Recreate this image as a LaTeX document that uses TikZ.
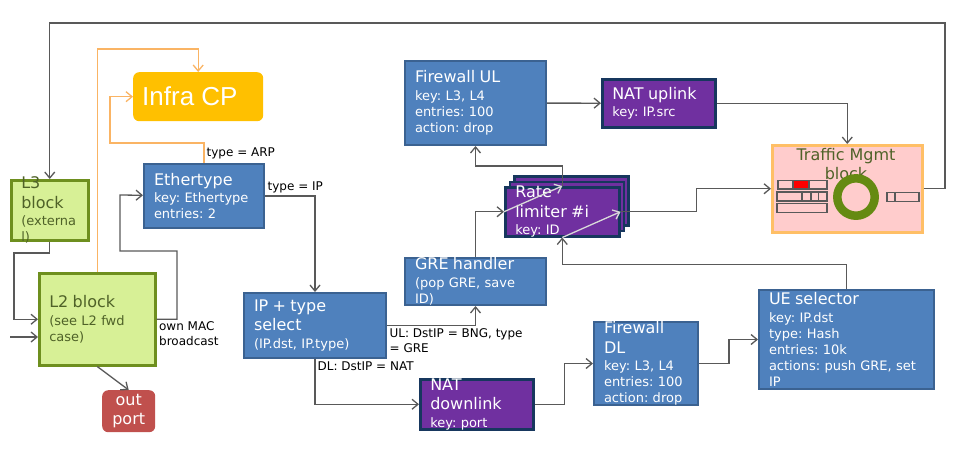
\documentclass[tikz,border=0pt]{standalone}
\usepackage{fontspec}
\setmainfont{DejaVu Sans}
\newfontfamily\infrafont{Liberation Sans}
\usepackage{tikz}
\usepackage{xcolor}
\usetikzlibrary{positioning, arrows.meta, calc}
\definecolor{boxblue}{HTML}{4F81BD}
\definecolor{boxblueline}{HTML}{3B6291}
\definecolor{natpurple}{HTML}{7030A0}
\definecolor{natline}{HTML}{17375E}
\definecolor{l2green}{HTML}{D7F096}
\definecolor{l2line}{HTML}{6E8F1E}
\definecolor{l2text}{HTML}{4F6228}
\definecolor{infrayellow}{HTML}{FFC000}
\definecolor{outred}{HTML}{C0504D}
\definecolor{tmpink}{HTML}{FFCCCC}
\definecolor{tmline}{HTML}{FFBF66}
\definecolor{cporange}{HTML}{FAB464}
\definecolor{linegrey}{HTML}{595959}
\definecolor{innergrey}{HTML}{D9D9D9}
\definecolor{ringgreen}{HTML}{658A12}
\frenchspacing
\newcommand{\boxhead}[1]{{\fontsize{16}{19.5}\selectfont #1\par}\vspace{1.5pt}}
\newcommand{\boxdetail}{\fontsize{13}{16}\selectfont}
\tikzset{
    sz/.style 2 args={minimum width=#1pt, minimum height=#2pt},
    bluebox/.style={draw=boxblueline, fill=boxblue, line width=2pt, anchor=north west, inner sep=0pt},
    purplebox/.style={draw=natline, fill=natpurple, line width=2.5pt, anchor=north west, inner sep=0pt},
    greenbox/.style={draw=l2line, fill=l2green, line width=2.5pt, anchor=north west, inner sep=0pt},
    boxtxt/.style={inner sep=0pt, align=left, text=white, font=\boxdetail},
    lbl/.style={inner sep=2pt, font=\fontsize{12}{15}\selectfont, text=black},
    conn/.style={draw=linegrey, line width=1.3pt, -{Straight Barb[length=6pt, width=10pt]}},
    cpconn/.style={conn, draw=cporange},
    inconn/.style={conn, draw=innergrey}
}

\begin{document}
\begin{tikzpicture}[x=1pt, y=-1pt]
        \useasboundingbox (0,0) rectangle (960,456);

        % Bloques L3 y L2
        \node[greenbox, sz={77}{60}] (lthree) at (10,179) {};
        \node[boxtxt, text=l2text, text width=57pt] (lthree_t) at (lthree.center) {\boxhead{L3\\block}(externa\\l)};
        \node[greenbox, sz={116}{92}] (ltwo) at (38,272) {};
        \node[boxtxt, text=l2text, text width=96pt] (ltwo_t) at (ltwo.center) {\boxhead{L2 block}(see L2 fwd\\case)};

        % Infra CP y puerto de salida
        \node[fill=infrayellow, rounded corners=6pt, anchor=north west, sz={130}{49}] (infra) at (133,72) {};
        \node[anchor=west, inner sep=0pt, text=white, font=\infrafont\fontsize{26}{30}\selectfont] (infra_t) at ([xshift=9pt]infra.west) {Infra CP};
        \node[fill=outred, rounded corners=6pt, anchor=north west, sz={53}{42}] (outp) at (102,390) {};
        \node[boxtxt, align=center, font=\fontsize{16}{19}\selectfont] (outp_t) at (outp.center) {out\\port};

        % Tablas (azul)
        \node[bluebox, sz={120}{64}] (ether) at (143,163) {};
        \node[boxtxt, text width=100pt] (ether_t) at (ether.center) {\boxhead{Ethertype}key: Ethertype\\entries: 2};
        \node[bluebox, sz={142}{65}] (ipsel) at (243,292) {};
        \node[boxtxt, text width=122pt] (ipsel_t) at (ipsel.center) {\boxhead{IP + type\\select}(IP.dst, IP.type)};
        \node[bluebox, sz={141}{47}] (gre) at (404,257) {};
        \node[boxtxt, text width=121pt] (gre_t) at (gre.center) {\boxhead{GRE handler}(pop GRE, save\\ID)};
        \node[bluebox, sz={141}{84}] (fwul) at (404,60) {};
        \node[boxtxt, text width=121pt] (fwul_t) at (fwul.center) {\boxhead{Firewall UL}key: L3, L4\\entries: 100\\action: drop};
        \node[bluebox, sz={104}{83}] (fwdl) at (593,321) {};
        \node[boxtxt, text width=84pt] (fwdl_t) at (fwdl.center) {\boxhead{Firewall\\DL}key: L3, L4\\entries: 100\\action: drop};
        \node[bluebox, sz={175}{99}] (ue) at (758,289) {};
        \node[boxtxt, text width=155pt] (ue_t) at (ue.center) {\boxhead{UE selector}key: IP.dst\\type: Hash\\entries: 10k\\actions: push GRE, set\\IP};

        % NAT y limitador (morado)
        \node[purplebox, sz={113}{48}] (natul) at (601,78) {};
        \node[boxtxt, text width=93pt] (natul_t) at (natul.center) {\boxhead{NAT uplink}key: IP.src};
        \node[purplebox, sz={113}{50}] (natdl) at (419,378) {};
        \node[boxtxt, text width=93pt] (natdl_t) at (natdl.center) {\boxhead{NAT\\downlink}key: port};
        \node[purplebox, sz={114}{49}] (rate_b) at (513,175) {};
        \node[purplebox, sz={114}{49}] (rate_m) at (508.5,180.5) {};
        \node[purplebox, sz={114}{49}] (rate) at (504,186) {};
        \node[boxtxt, text width=94pt] (rate_t) at (rate.center) {\boxhead{Rate\\limiter \#i}key: ID};

        % Bloque de gestion de trafico
        \node[draw=tmline, fill=tmpink, line width=2.5pt, anchor=north west, inner sep=0pt, sz={150}{87}] (tm) at (771,144) {};
        \node[anchor=north, inner sep=0pt, text=l2text, align=center, font=\fontsize{16}{19}\selectfont] (tm_t) at (846,148) {Traffic Mgmt\\block};
        \fill[red] (793,180.5) rectangle (809,189);
        \begin{scope}[draw=linegrey, line width=1.2pt]
            \draw (778,180.5) rectangle (827,189) (793,180.5) -- (793,189) (809,180.5) -- (809,189);
            \draw (777,192) rectangle (827,201) (802,192) -- (802,201) (811,192) -- (811,201) (818.5,192) -- (818.5,201);
            \draw (777,203.5) rectangle (827,212.5);
            \draw (887,192.5) rectangle (919,201.5) (895,192.5) -- (895,201.5);
        \end{scope}
        \draw[ringgreen, line width=8.5pt] (856,197) circle[radius=18.7pt];

        % Conexiones
        \draw[conn] (tm.east) -| (945,23) -| (lthree);
        \draw[conn] (lthree) |- (14,253) |- (ltwo);
        \coordinate (ext_in) at (10,337);
        \draw[conn] (ext_in) -- (ext_in -| ltwo.west);
        \draw[conn] (ltwo.east) node[lbl, below right, align=left] {own MAC\\broadcast} -| (177,251) -| (120,195) -- (ether);
        \draw[conn] (ltwo.south) -- (outp.north);
        \draw[cpconn] (ltwo.north) |- ([yshift=23pt]infra.north) -- (infra.north);
        \draw[cpconn] (ether.north) -- node[lbl, right] {type = ARP} ++(0,-20) -| ([xshift=-23pt]infra.west) -- (infra.west);
        \draw[conn] (ether.east) node[lbl, above right] {type = IP} -| (ipsel);
        \draw[conn] (ipsel.east) node[lbl, below right, align=left] {UL: DstIP = BNG, type\\= GRE} -| (gre);
        \draw[conn] (ipsel.south) node[lbl, below right] {DL: DstIP = NAT} |- (natdl);
        \draw[conn] (natdl.east) -- ++(30,0) |- (fwdl);
        \draw[conn] (fwdl.east) -- ++(30,0) |- (ue);
        \draw[conn] (ue.north) |- ([yshift=-27pt]rate.south) -- (rate.south);
        \draw[conn] (gre) |- (rate);
        \draw[inconn] (rate.west) -- (rate.north);
        \draw[inconn] (rate.south) -- (rate.east);
        \draw[conn] (rate.north) -- ++(0,-20) -| (fwul);
        \draw[conn] (rate.east) -- ++(76,0) |- (tm);
        \draw[conn] (fwul) -- (natul);
        \draw[conn] (natul) -| (tm);
\end{tikzpicture}
\end{document}
